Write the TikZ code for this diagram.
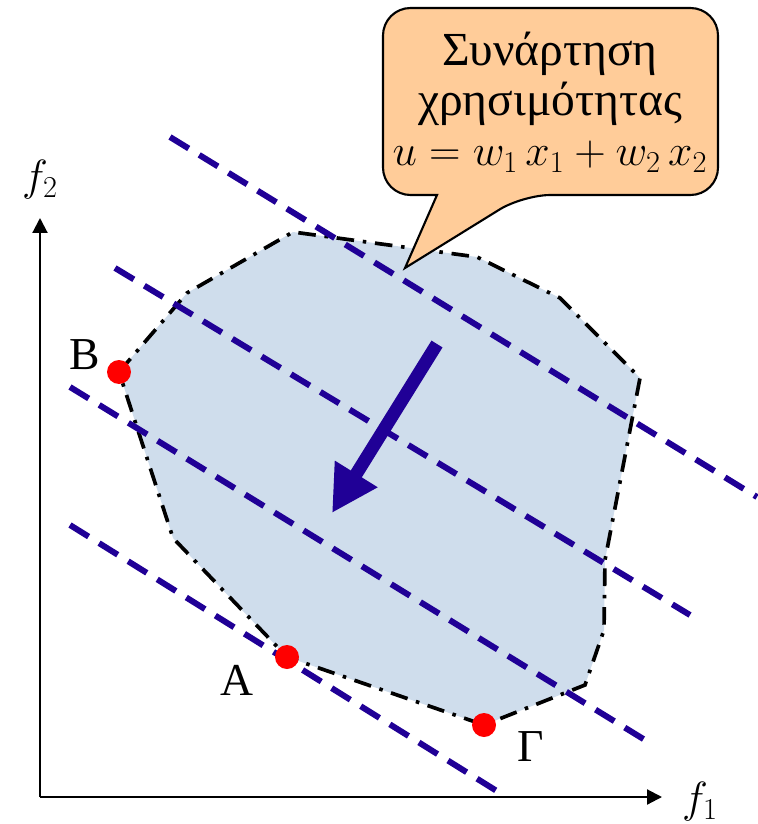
\documentclass[tikz,border=0pt]{standalone}
\usepackage{fontspec}
\setmainfont{Liberation Serif}
\usetikzlibrary{arrows.meta}

\definecolor{lineblue}{RGB}{32,0,150}
\definecolor{regionfill}{RGB}{207,221,236}
\definecolor{bubblefill}{RGB}{255,204,153}

\begin{document}
\begin{tikzpicture}[x=0.02cm, y=-0.02cm,
    level/.style={draw=lineblue, line width=3.4pt, dash pattern=on 12.5pt off 7pt},
    region/.style={draw=black, fill=regionfill, line width=2.1pt, dash pattern=on 10pt off 5pt on 2pt off 5pt},
    pt/.style={circle, fill=red, inner sep=0pt, minimum size=0.48cm},
    lbl/.style={font=\fontsize{26}{29}\selectfont, inner sep=0pt},
    axis/.style={-{Triangle[length=0.3cm,width=0.3cm]}, line width=1.2pt}
]
\useasboundingbox (0,0) rectangle (757,824);

% feasible region
\draw[region] (119,372) -- (187,293) -- (293,232) -- (477,257) -- (560,298) -- (640,378)
    -- (605,560) -- (604,630) -- (585,685) -- (484,725) -- (287,657) -- (173,538) -- cycle;

% level lines of u
\draw[level] (170,137) -- (757,497);
\draw[level] (115,268) -- (690,615);
\draw[level] (70,387) -- (645,740);
\draw[level] (70,525) -- (500,793);

% direction
\draw[-{Triangle[length=0.92cm,width=0.94cm]}, line width=0.26cm, lineblue] (437,344) -- (332,513);

% callout
\draw[fill=bubblefill, line width=1.2pt] (405,268) -- (437,195) [rounded corners=0.55cm] -- (383,195)
    -- (383,8) -- (718,8) -- (718,195) -- (523,195) [sharp corners] -- cycle;
\node[lbl, align=center, font=\fontsize{27}{28.5}\selectfont] (bubble) at (550,102) {Συνάρτηση\\χρησιμότητας\\$u = w_1\,x_1 + w_2\,x_2$};

% axes
\coordinate (O) at (40,797);
\coordinate (ytip) at (40,218);
\coordinate (xtip) at (662,797);
\draw[axis] (O) -- (ytip);
\draw[axis] (O) -- (xtip);
\node[lbl] (f2) at (40,180) {$f_2$};
\node[lbl] (f1) at (700,802) {$f_1$};

% points
\node[pt] (ptB) at (119,372) {};
\node[pt] (ptA) at (287,657) {};
\node[pt] (ptG) at (484,725) {};
\node[lbl] (labB) at (85,355) {B};
\node[lbl] (labA) at (237,680) {A};
\node[lbl] (labG) at (531,747) {Γ};
\end{tikzpicture}
\end{document}
